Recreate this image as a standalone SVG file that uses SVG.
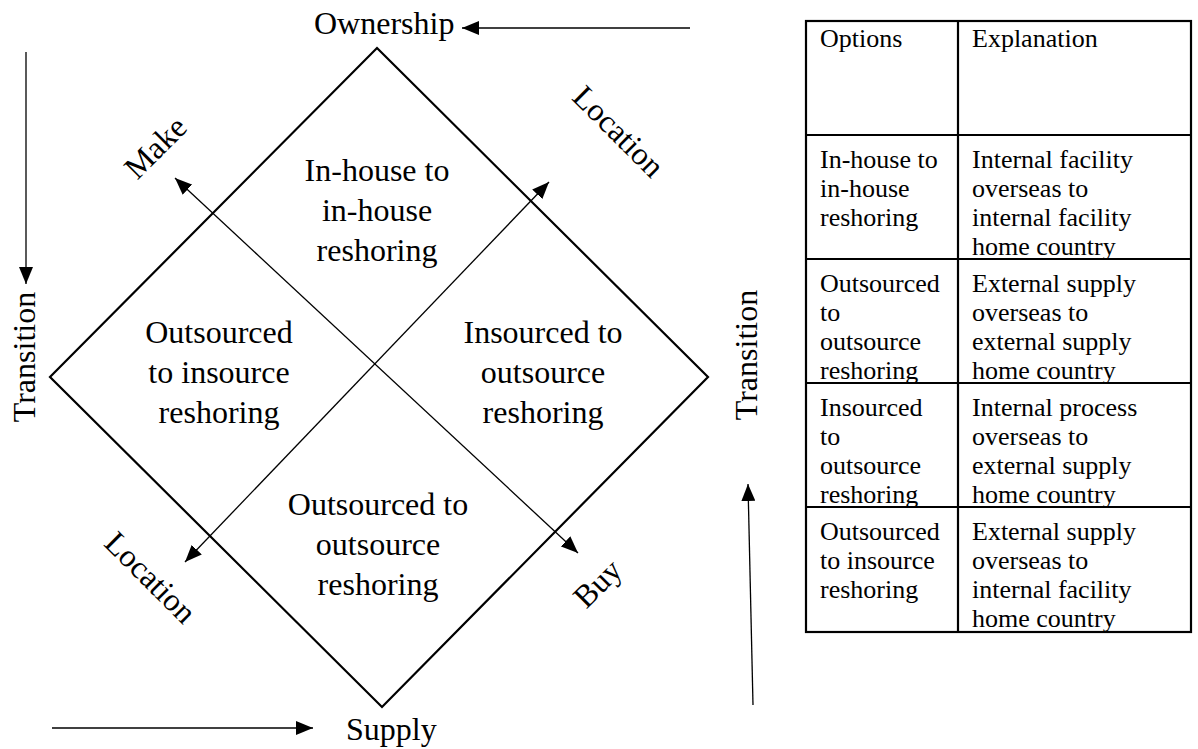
<svg xmlns="http://www.w3.org/2000/svg" width="1198" height="749" viewBox="0 0 1198 749">
  <style>
    text { font-family: "Liberation Serif", "Times New Roman", serif; fill: #000; }
    .big { font-size: 32px; }
    .cell { font-size: 26px; }
    .mid { text-anchor: middle; }
    .thin { stroke: #000; stroke-width: 1.3; fill: none; }
    .frame { stroke: #000; stroke-width: 2.2; fill: none; }
    .grid { stroke: #000; stroke-width: 2.2; fill: none; }
  </style>
  <defs>
    <marker id="head" markerUnits="userSpaceOnUse" markerWidth="18" markerHeight="14" refX="17" refY="7" orient="auto-start-reverse">
      <path d="M0,0 L17,7 L0,14 Z" fill="#000"/>
    </marker>
  </defs>
  <rect width="1198" height="749" fill="#fff"/>

  <!-- central diamond -->
  <g id="diamond">
    <path class="frame" d="M377,48 L708,377 L382,707 L50,377 Z"/>
  </g>

  <!-- connectors: diagonals and side arrows -->
  <g id="connectors">
    <line class="thin" x1="175" y1="178" x2="578" y2="553" marker-start="url(#head)" marker-end="url(#head)"/>
    <line class="thin" x1="549" y1="182" x2="185" y2="562" marker-start="url(#head)" marker-end="url(#head)"/>
    <line class="thin" x1="690" y1="28" x2="462" y2="28" marker-end="url(#head)"/>
    <line class="thin" x1="26" y1="52" x2="26" y2="284" marker-end="url(#head)"/>
    <line class="thin" x1="52" y1="728" x2="313" y2="728" marker-end="url(#head)"/>
    <line class="thin" x1="753" y1="705" x2="748" y2="484" marker-end="url(#head)"/>
  </g>

  <!-- axis labels -->
  <g id="ownership"><text class="big" x="314" y="34">Ownership</text></g>
  <g id="supply"><text class="big" x="346" y="740">Supply</text></g>
  <g id="transition-left"><text class="big mid" transform="translate(35,357) rotate(-90)">Transition</text></g>
  <g id="transition-right"><text class="big mid" transform="translate(757,355) rotate(-90)">Transition</text></g>
  <g id="make"><text class="big mid" transform="translate(163,155) rotate(-45)">Make</text></g>
  <g id="location-top"><text class="big mid" transform="translate(611,139) rotate(45)">Location</text></g>
  <g id="location-bottom"><text class="big mid" transform="translate(143,585) rotate(45)">Location</text></g>
  <g id="buy"><text class="big mid" transform="translate(605,591) rotate(-45)">Buy</text></g>

  <!-- quadrant labels -->
  <g id="q-top">
    <text class="big mid" x="377" y="181">In-house to</text>
    <text class="big mid" x="377" y="221">in-house</text>
    <text class="big mid" x="377" y="261">reshoring</text>
  </g>
  <g id="q-left">
    <text class="big mid" x="219" y="343">Outsourced</text>
    <text class="big mid" x="219" y="383">to insource</text>
    <text class="big mid" x="219" y="423">reshoring</text>
  </g>
  <g id="q-right">
    <text class="big mid" x="543" y="343">Insourced to</text>
    <text class="big mid" x="543" y="383">outsource</text>
    <text class="big mid" x="543" y="423">reshoring</text>
  </g>
  <g id="q-bottom">
    <text class="big mid" x="378" y="515">Outsourced to</text>
    <text class="big mid" x="378" y="555">outsource</text>
    <text class="big mid" x="378" y="595">reshoring</text>
  </g>

  <!-- options table -->
  <g id="table">
    <rect class="grid" x="806" y="21" width="385" height="611"/>
    <line class="grid" x1="958" y1="21" x2="958" y2="632"/>
    <line class="grid" x1="806" y1="135" x2="1191" y2="135"/>
    <line class="grid" x1="806" y1="259" x2="1191" y2="259"/>
    <line class="grid" x1="806" y1="383" x2="1191" y2="383"/>
    <line class="grid" x1="806" y1="507" x2="1191" y2="507"/>
    <g class="cell">
      <text x="820" y="47">Options</text>
      <text x="972" y="47">Explanation</text>

      <text x="820" y="168">In-house to</text>
      <text x="820" y="197">in-house</text>
      <text x="820" y="226">reshoring</text>
      <text x="972" y="168">Internal facility</text>
      <text x="972" y="197">overseas to</text>
      <text x="972" y="226">internal facility</text>
      <text x="972" y="255">home country</text>

      <text x="820" y="292">Outsourced</text>
      <text x="820" y="321">to</text>
      <text x="820" y="350">outsource</text>
      <text x="820" y="379">reshoring</text>
      <text x="972" y="292">External supply</text>
      <text x="972" y="321">overseas to</text>
      <text x="972" y="350">external supply</text>
      <text x="972" y="379">home country</text>

      <text x="820" y="416">Insourced</text>
      <text x="820" y="445">to</text>
      <text x="820" y="474">outsource</text>
      <text x="820" y="503">reshoring</text>
      <text x="972" y="416">Internal process</text>
      <text x="972" y="445">overseas to</text>
      <text x="972" y="474">external supply</text>
      <text x="972" y="503">home country</text>

      <text x="820" y="540">Outsourced</text>
      <text x="820" y="569">to insource</text>
      <text x="820" y="598">reshoring</text>
      <text x="972" y="540">External supply</text>
      <text x="972" y="569">overseas to</text>
      <text x="972" y="598">internal facility</text>
      <text x="972" y="627">home country</text>
    </g>
  </g>
</svg>
